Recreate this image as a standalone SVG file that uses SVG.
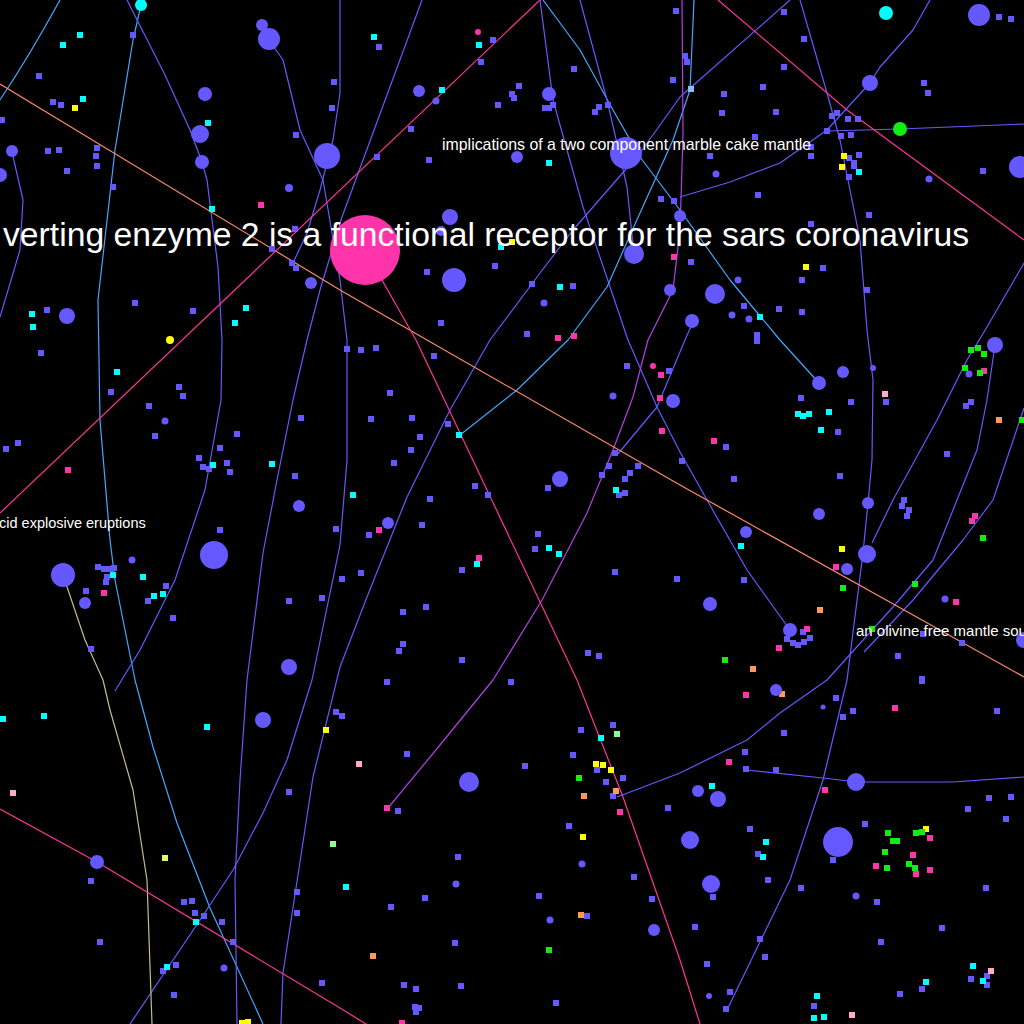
<svg xmlns="http://www.w3.org/2000/svg" xmlns:xlink="http://www.w3.org/1999/xlink" width="1024" height="1024" viewBox="0 0 1024 1024">
<style>
.e{fill:none;stroke-width:1.2;stroke-linejoin:round}
.lb{stroke:#3fa9ff}.bl{stroke:#6658ff}.pu{stroke:#b040e8}.mg{stroke:#ff3399}.or{stroke:#ff8866}.ye{stroke:#c8bb88}
.cb{fill:#6658ff}.cc{fill:#00ffff}.cp{fill:#ff33aa}.cy{fill:#ffff00}.cg{fill:#11ee11}.clp{fill:#ffaacc}.clg{fill:#88ff99}.cyg{fill:#ddff66}.co{fill:#ff9955}.clb{fill:#88bbff}
text{font-family:"Liberation Sans",Arial,sans-serif;fill:#ffffff}
</style>
<defs><rect id="s" x="-3" y="-3" width="6" height="6"/></defs>
<rect width="1024" height="1024" fill="#000"/>
<g id="connectors">
<path class="e lb" d="M60,0 Q30,55 0,100"/>
<path class="e lb" d="M141,5 L133,40 L115,150 L98,300 L100,420 L110,540 L115,580 L135,680 L153,747 L177,823 L210,908 L263,1024"/>
<path class="e bl" d="M127,0 L165,75 L190,130 L202,162 L207,180 L218,267 L222,340 L221,400 L205,490 L175,580 L140,650 L115,691"/>
<path class="e bl" d="M340,0 L340,93 L333,140 L320,190 L307,233 L293,263"/>
<path class="e bl" d="M422,0 L342,217 L320,290 L307,340 L293,400 L277,480 L263,553 L247,680 L240,780 L235,880 L237,1024"/>
<path class="e bl" d="M269,40 L283,60 L300,130 L323,180 L340,280 L347,340 L347,460 L340,545 L312,680 L287,760 L263,813 L233,870 L200,920 L130,1024"/>
<path class="e bl" d="M790,0 L680,97 L640,153 L573,230 L540,273 L490,340 L450,410 L407,497 L367,597 L340,667 L313,777 L283,973 L281,1024"/>
<path class="e lb" d="M543,0 L580,50 L613,110 L640,157 L680,210 L730,280 L780,340 L819,383"/>
<path class="e bl" d="M540,0 L553,100 L583,207 L628,340 L657,407 L680,452 L707,500 L747,570 L790,630"/>
<path class="e lb" d="M694,0 L690,90 L673,140 L640,213 L607,287 L568,340 L517,390 L460,435"/>
<path class="e pu" d="M682,0 L683,135 L680,230 L673,290 L648,340 L633,397 L613,450 L587,513 L542,600 L493,680 L440,745 L388,808"/>
<path class="e bl" d="M930,0 L913,30 L880,67 L870,83 L827,130 L780,163 L730,182 L680,197"/>
<path class="e bl" d="M827,131 L900,129 L1024,124"/>
<path class="e bl" d="M800,0 L827,93 L840,140 L860,240 L867,330 L873,380 L872,460 L868,503 L863,553 L847,680 L823,780 L790,880 L727,1010"/>
<path class="e bl" d="M580,0 L607,100 L627,187 L634,254"/>
<path class="e bl" d="M1024,263 L987,327 L967,360 L937,420 L893,500 L872,543"/>
<path class="e bl" d="M995,345 L987,400 L977,450 L957,500 L933,560 L893,607 L827,680 L780,713 L747,740 L680,773 L617,797"/>
<path class="e bl" d="M1024,408 L1020,420 L993,500 L963,540 L913,600 L864,652"/>
<path class="e bl" d="M747,770 L823,778 L857,782 L953,782 L1024,777"/>
<path class="e bl" d="M693,322 L685,340 L657,407 L617,455"/>
<path class="e ye" d="M63,575 L85,640 L103,680 L110,710 L133,790 L147,880 L152,1024"/>
<path class="e bl" d="M12,152 L23,200 L20,250 L0,317"/>
<path class="e or" d="M0,84 L340,290 L427,340 L680,485 L1024,677"/>
<path class="e mg" d="M0,513 L540,0"/>
<path class="e mg" d="M718,0 L847,110 L1024,240"/>
<path class="e mg" d="M365,250 L416,340 L577,680 L623,797 L680,960 L700,1024"/>
<path class="e mg" d="M0,809 L97,862 L340,1008 L366,1024"/>
</g>
<g id="small-blue" class="cb">
<use href="#s" x="133" y="35"/><use href="#s" x="39" y="76"/><use href="#s" x="53" y="102"/><use href="#s" x="61" y="105"/><use href="#s" x="2" y="120"/><use href="#s" x="48" y="151"/><use href="#s" x="59" y="150"/><use href="#s" x="97" y="148"/><use href="#s" x="96" y="156"/><use href="#s" x="97" y="166"/><use href="#s" x="67" y="171"/><use href="#s" x="113" y="187"/><use href="#s" x="334" y="82"/><use href="#s" x="332" y="108"/><use href="#s" x="296" y="135"/><use href="#s" x="295" y="229"/><use href="#s" x="272" y="249"/><use href="#s" x="292" y="263"/><use href="#s" x="296" y="268"/><use href="#s" x="135" y="303"/><use href="#s" x="47" y="310"/><use href="#s" x="193" y="311"/>
<use href="#s" x="379" y="47"/><use href="#s" x="493" y="40"/><use href="#s" x="481" y="62"/><use href="#s" x="519" y="86"/><use href="#s" x="512" y="94"/><use href="#s" x="514" y="98"/><use href="#s" x="498" y="105"/><use href="#s" x="545" y="108"/><use href="#s" x="549" y="108"/><use href="#s" x="553" y="105"/><use href="#s" x="574" y="69"/><use href="#s" x="599" y="107"/><use href="#s" x="595" y="112"/><use href="#s" x="608" y="105"/><use href="#s" x="673" y="80"/><use href="#s" x="676" y="11"/><use href="#s" x="411" y="129"/><use href="#s" x="377" y="157"/><use href="#s" x="429" y="160"/><use href="#s" x="661" y="199"/><use href="#s" x="674" y="201"/><use href="#s" x="495" y="266"/><use href="#s" x="427" y="272"/><use href="#s" x="532" y="284"/><use href="#s" x="573" y="286"/><use href="#s" x="441" y="323"/><use href="#s" x="527" y="334"/>
<use href="#s" x="784" y="12"/><use href="#s" x="804" y="39"/><use href="#s" x="784" y="67"/><use href="#s" x="763" y="87"/><use href="#s" x="724" y="94"/><use href="#s" x="722" y="113"/><use href="#s" x="776" y="112"/><use href="#s" x="685" y="56"/><use href="#s" x="687" y="62"/><use href="#s" x="924" y="83"/><use href="#s" x="928" y="93"/><use href="#s" x="999" y="17"/><use href="#s" x="1011" y="19"/><use href="#s" x="832" y="116"/><use href="#s" x="837" y="113"/><use href="#s" x="848" y="119"/><use href="#s" x="858" y="119"/><use href="#s" x="827" y="131"/><use href="#s" x="841" y="136"/><use href="#s" x="851" y="135"/><use href="#s" x="755" y="137"/><use href="#s" x="811" y="147"/><use href="#s" x="710" y="156"/><use href="#s" x="811" y="156"/><use href="#s" x="859" y="155"/><use href="#s" x="849" y="158"/><use href="#s" x="854" y="163"/><use href="#s" x="854" y="166"/><use href="#s" x="849" y="177"/><use href="#s" x="758" y="195"/><use href="#s" x="983" y="171"/><use href="#s" x="869" y="215"/><use href="#s" x="811" y="224"/><use href="#s" x="823" y="268"/><use href="#s" x="802" y="280"/><use href="#s" x="867" y="290"/><use href="#s" x="779" y="309"/><use href="#s" x="802" y="312"/><use href="#s" x="744" y="306"/><use href="#s" x="757" y="335"/><use href="#s" x="691" y="262"/>
<use href="#s" x="41" y="353"/><use href="#s" x="111" y="392"/><use href="#s" x="179" y="387"/><use href="#s" x="183" y="396"/><use href="#s" x="149" y="406"/><use href="#s" x="155" y="436"/><use href="#s" x="18" y="443"/><use href="#s" x="6" y="449"/><use href="#s" x="199" y="458"/><use href="#s" x="203" y="467"/><use href="#s" x="209" y="469"/><use href="#s" x="220" y="448"/><use href="#s" x="227" y="463"/><use href="#s" x="230" y="472"/><use href="#s" x="237" y="434"/><use href="#s" x="301" y="418"/><use href="#s" x="295" y="476"/><use href="#s" x="220" y="530"/><use href="#s" x="336" y="529"/><use href="#s" x="98" y="567"/><use href="#s" x="104" y="569"/><use href="#s" x="110" y="569"/><use href="#s" x="114" y="568"/><use href="#s" x="107" y="577"/><use href="#s" x="106" y="582"/><use href="#s" x="86" y="591"/><use href="#s" x="166" y="586"/><use href="#s" x="148" y="601"/><use href="#s" x="173" y="618"/><use href="#s" x="289" y="601"/><use href="#s" x="322" y="598"/><use href="#s" x="91" y="649"/>
<use href="#s" x="347" y="349"/><use href="#s" x="361" y="350"/><use href="#s" x="376" y="348"/><use href="#s" x="434" y="356"/><use href="#s" x="390" y="393"/><use href="#s" x="371" y="419"/><use href="#s" x="412" y="418"/><use href="#s" x="448" y="424"/><use href="#s" x="420" y="437"/><use href="#s" x="411" y="450"/><use href="#s" x="394" y="463"/><use href="#s" x="475" y="486"/><use href="#s" x="488" y="495"/><use href="#s" x="430" y="499"/><use href="#s" x="422" y="525"/><use href="#s" x="369" y="535"/><use href="#s" x="361" y="573"/><use href="#s" x="342" y="579"/><use href="#s" x="462" y="570"/><use href="#s" x="538" y="534"/><use href="#s" x="535" y="549"/><use href="#s" x="548" y="488"/><use href="#s" x="627" y="366"/><use href="#s" x="669" y="371"/><use href="#s" x="615" y="453"/><use href="#s" x="609" y="466"/><use href="#s" x="602" y="475"/><use href="#s" x="638" y="466"/><use href="#s" x="630" y="473"/><use href="#s" x="625" y="479"/><use href="#s" x="619" y="495"/><use href="#s" x="625" y="493"/><use href="#s" x="615" y="572"/><use href="#s" x="677" y="579"/><use href="#s" x="403" y="612"/><use href="#s" x="426" y="607"/><use href="#s" x="403" y="644"/><use href="#s" x="399" y="651"/><use href="#s" x="462" y="660"/><use href="#s" x="588" y="653"/><use href="#s" x="599" y="656"/>
<use href="#s" x="757" y="341"/><use href="#s" x="801" y="398"/><use href="#s" x="851" y="402"/><use href="#s" x="886" y="402"/><use href="#s" x="838" y="432"/><use href="#s" x="726" y="447"/><use href="#s" x="682" y="461"/><use href="#s" x="734" y="479"/><use href="#s" x="840" y="476"/><use href="#s" x="947" y="454"/><use href="#s" x="971" y="402"/><use href="#s" x="966" y="406"/><use href="#s" x="904" y="500"/><use href="#s" x="902" y="506"/><use href="#s" x="909" y="510"/><use href="#s" x="907" y="516"/><use href="#s" x="744" y="580"/><use href="#s" x="962" y="643"/><use href="#s" x="898" y="656"/><use href="#s" x="922" y="679"/><use href="#s" x="923" y="634"/><use href="#s" x="803" y="632"/><use href="#s" x="787" y="639"/><use href="#s" x="793" y="643"/><use href="#s" x="798" y="645"/><use href="#s" x="804" y="642"/><use href="#s" x="810" y="638"/>
<use href="#s" x="289" y="792"/><use href="#s" x="91" y="881"/><use href="#s" x="184" y="902"/><use href="#s" x="192" y="901"/><use href="#s" x="195" y="913"/><use href="#s" x="204" y="916"/><use href="#s" x="222" y="922"/><use href="#s" x="233" y="942"/><use href="#s" x="100" y="942"/><use href="#s" x="176" y="965"/><use href="#s" x="163" y="971"/><use href="#s" x="174" y="995"/><use href="#s" x="297" y="892"/><use href="#s" x="297" y="913"/><use href="#s" x="322" y="983"/><use href="#s" x="336" y="712"/>
<use href="#s" x="387" y="682"/><use href="#s" x="511" y="682"/><use href="#s" x="342" y="716"/><use href="#s" x="407" y="754"/><use href="#s" x="525" y="766"/><use href="#s" x="398" y="811"/><use href="#s" x="581" y="730"/><use href="#s" x="613" y="725"/><use href="#s" x="573" y="755"/><use href="#s" x="597" y="770"/><use href="#s" x="623" y="778"/><use href="#s" x="606" y="782"/><use href="#s" x="613" y="796"/><use href="#s" x="668" y="808"/><use href="#s" x="569" y="826"/><use href="#s" x="458" y="857"/><use href="#s" x="425" y="898"/><use href="#s" x="391" y="907"/><use href="#s" x="539" y="896"/><use href="#s" x="634" y="877"/><use href="#s" x="652" y="899"/><use href="#s" x="587" y="916"/><use href="#s" x="455" y="943"/><use href="#s" x="404" y="985"/><use href="#s" x="416" y="989"/><use href="#s" x="461" y="986"/><use href="#s" x="556" y="1003"/><use href="#s" x="415" y="1007"/><use href="#s" x="419" y="1008"/><use href="#s" x="416" y="1012"/>
<use href="#s" x="836" y="698"/><use href="#s" x="853" y="711"/><use href="#s" x="843" y="717"/><use href="#s" x="997" y="711"/><use href="#s" x="784" y="733"/><use href="#s" x="745" y="752"/><use href="#s" x="746" y="769"/><use href="#s" x="776" y="770"/><use href="#s" x="989" y="798"/><use href="#s" x="1011" y="797"/><use href="#s" x="968" y="809"/><use href="#s" x="1006" y="819"/><use href="#s" x="865" y="824"/><use href="#s" x="750" y="829"/><use href="#s" x="758" y="854"/><use href="#s" x="833" y="860"/><use href="#s" x="768" y="880"/><use href="#s" x="801" y="888"/><use href="#s" x="986" y="888"/><use href="#s" x="877" y="902"/><use href="#s" x="713" y="897"/><use href="#s" x="695" y="927"/><use href="#s" x="942" y="928"/><use href="#s" x="760" y="939"/><use href="#s" x="881" y="942"/><use href="#s" x="765" y="957"/><use href="#s" x="707" y="964"/><use href="#s" x="730" y="992"/><use href="#s" x="726" y="1009"/><use href="#s" x="814" y="1006"/><use href="#s" x="900" y="994"/><use href="#s" x="922" y="989"/><use href="#s" x="971" y="979"/><use href="#s" x="987" y="976"/><use href="#s" x="987" y="985"/><use href="#s" x="922" y="681"/>
</g>
<g id="small-blue-round" class="cb">
<circle cx="289" cy="188" r="4"/><circle cx="544" cy="303" r="3.5"/><circle cx="436" cy="101" r="3.5"/><circle cx="165" cy="421" r="3.5"/><circle cx="132" cy="560" r="3.5"/><circle cx="613" cy="396" r="3.5"/><circle cx="969" cy="374" r="3.5"/><circle cx="945" cy="599" r="3.5"/><circle cx="716" cy="174" r="3.5"/><circle cx="929" cy="179" r="3.5"/><circle cx="732" cy="315" r="3.5"/><circle cx="749" cy="319" r="3.5"/><circle cx="456" cy="884" r="3.5"/><circle cx="582" cy="864" r="3.5"/><circle cx="550" cy="920" r="3.5"/><circle cx="709" cy="996" r="3"/><circle cx="224" cy="968" r="3.5"/><circle cx="823" cy="707" r="2.5"/><circle cx="856" cy="896" r="3.5"/><circle cx="873" cy="368" r="3"/><circle cx="738" cy="280" r="3.5"/><circle cx="441" cy="231" r="5"/>
</g>
<g id="small-cyan" class="cc">
<use href="#s" x="80" y="35"/><use href="#s" x="63" y="45"/><use href="#s" x="83" y="99"/><use href="#s" x="208" y="123"/><use href="#s" x="212" y="209"/><use href="#s" x="246" y="308"/><use href="#s" x="235" y="323"/><use href="#s" x="32" y="314"/><use href="#s" x="33" y="327"/><use href="#s" x="374" y="37"/><use href="#s" x="479" y="45"/><use href="#s" x="442" y="90"/><use href="#s" x="549" y="163"/><use href="#s" x="501" y="247"/><use href="#s" x="560" y="287"/><use href="#s" x="859" y="172"/><use href="#s" x="760" y="317"/><use href="#s" x="117" y="372"/><use href="#s" x="213" y="465"/><use href="#s" x="272" y="464"/><use href="#s" x="113" y="575"/><use href="#s" x="143" y="577"/><use href="#s" x="154" y="596"/><use href="#s" x="163" y="594"/><use href="#s" x="459" y="435"/><use href="#s" x="353" y="495"/><use href="#s" x="616" y="490"/><use href="#s" x="549" y="548"/><use href="#s" x="559" y="554"/><use href="#s" x="477" y="564"/><use href="#s" x="798" y="414"/><use href="#s" x="803" y="416"/><use href="#s" x="809" y="414"/><use href="#s" x="829" y="412"/><use href="#s" x="821" y="430"/><use href="#s" x="741" y="546"/><use href="#s" x="3" y="719"/><use href="#s" x="44" y="716"/><use href="#s" x="207" y="727"/><use href="#s" x="196" y="922"/><use href="#s" x="167" y="967"/><use href="#s" x="601" y="738"/><use href="#s" x="346" y="887"/><use href="#s" x="712" y="786"/><use href="#s" x="766" y="842"/><use href="#s" x="763" y="857"/><use href="#s" x="973" y="966"/><use href="#s" x="983" y="981"/><use href="#s" x="926" y="982"/><use href="#s" x="817" y="996"/><use href="#s" x="814" y="1018"/><use href="#s" x="824" y="1017"/>
</g>
<g id="small-lightblue" class="clb"><use href="#s" x="691" y="89"/></g>
<g id="small-pink" class="cp">
<use href="#s" x="261" y="205"/><circle cx="478" cy="32" r="3"/><use href="#s" x="674" y="257"/><use href="#s" x="558" y="338"/><use href="#s" x="574" y="336"/><use href="#s" x="68" y="470"/><use href="#s" x="104" y="593"/><circle cx="653" cy="366" r="3"/><use href="#s" x="661" y="375"/><use href="#s" x="660" y="398"/><use href="#s" x="662" y="431"/><use href="#s" x="379" y="530"/><use href="#s" x="479" y="558"/><use href="#s" x="714" y="441"/><use href="#s" x="984" y="371"/><use href="#s" x="975" y="516"/><use href="#s" x="972" y="521"/><use href="#s" x="836" y="567"/><use href="#s" x="956" y="602"/><use href="#s" x="807" y="629"/><use href="#s" x="779" y="648"/><use href="#s" x="387" y="808"/><use href="#s" x="620" y="812"/><use href="#s" x="402" y="1023"/><use href="#s" x="746" y="695"/><use href="#s" x="895" y="708"/><use href="#s" x="729" y="762"/><use href="#s" x="825" y="790"/><use href="#s" x="930" y="838"/><use href="#s" x="913" y="855"/><use href="#s" x="876" y="866"/><use href="#s" x="916" y="874"/><use href="#s" x="930" y="870"/>
</g>
<g id="small-lightpink" class="clp">
<use href="#s" x="885" y="394"/><use href="#s" x="13" y="793"/><use href="#s" x="359" y="764"/><use href="#s" x="991" y="971"/><use href="#s" x="852" y="1015"/>
</g>
<g id="small-yellow" class="cy">
<use href="#s" x="75" y="108"/><circle cx="170" cy="340" r="4"/><use href="#s" x="512" y="242"/><use href="#s" x="844" y="156"/><use href="#s" x="842" y="167"/><use href="#s" x="806" y="267"/><use href="#s" x="842" y="549"/><use href="#s" x="326" y="730"/><use href="#s" x="248" y="1022"/><use href="#s" x="242" y="1023"/><use href="#s" x="596" y="764"/><use href="#s" x="603" y="765"/><use href="#s" x="611" y="770"/><use href="#s" x="583" y="837"/><use href="#s" x="926" y="829"/>
</g>
<g id="small-green" class="cg">
<use href="#s" x="971" y="350"/><use href="#s" x="978" y="348"/><use href="#s" x="984" y="354"/><use href="#s" x="965" y="368"/><use href="#s" x="980" y="373"/><use href="#s" x="1022" y="420"/><use href="#s" x="983" y="538"/><use href="#s" x="843" y="588"/><use href="#s" x="915" y="584"/><use href="#s" x="872" y="629"/><use href="#s" x="725" y="660"/><use href="#s" x="579" y="778"/><use href="#s" x="549" y="950"/><use href="#s" x="888" y="833"/><use href="#s" x="893" y="841"/><use href="#s" x="897" y="841"/><use href="#s" x="885" y="852"/><use href="#s" x="887" y="868"/><use href="#s" x="909" y="864"/><use href="#s" x="915" y="868"/><use href="#s" x="916" y="833"/><use href="#s" x="922" y="832"/>
</g>
<g id="small-lightgreen" class="clg"><use href="#s" x="333" y="844"/><use href="#s" x="617" y="734"/></g>
<g id="small-yellowgreen" class="cyg"><use href="#s" x="165" y="858"/></g>
<g id="small-orange" class="co">
<use href="#s" x="999" y="420"/><use href="#s" x="820" y="610"/><use href="#s" x="753" y="669"/><use href="#s" x="584" y="796"/><use href="#s" x="616" y="791"/><use href="#s" x="581" y="915"/><use href="#s" x="373" y="956"/><use href="#s" x="782" y="694"/>
</g>
<g id="large-nodes" class="cb">
<circle id="n1" cx="262" cy="25" r="6"/><circle id="n2" cx="269" cy="39" r="11"/><circle id="n3" cx="205" cy="94" r="7"/><circle id="n4" cx="200" cy="134" r="9"/><circle id="n5" cx="202" cy="162" r="7"/><circle id="n6" cx="12" cy="151" r="6"/><circle id="n7" cx="0" cy="175" r="7"/><circle id="n8" cx="327" cy="156" r="13"/><circle id="n9" cx="311" cy="283" r="6"/><circle id="n10" cx="67" cy="316" r="8"/><circle id="n11" cx="419" cy="91" r="6"/><circle id="n12" cx="549" cy="94" r="7"/><circle id="n13" cx="517" cy="157" r="6"/><circle id="n14" cx="626" cy="153" r="16"/><circle id="n15" cx="450" cy="217" r="8"/><circle id="n16" cx="634" cy="254" r="10"/><circle id="n17" cx="454" cy="280" r="12"/><circle id="n18" cx="680" cy="216" r="6"/><circle id="n19" cx="670" cy="290" r="6"/><circle id="n20" cx="979" cy="15" r="11"/><circle id="n21" cx="870" cy="83" r="8"/><circle id="n22" cx="1020" cy="167" r="11"/><circle id="n23" cx="715" cy="294" r="10"/><circle id="n24" cx="692" cy="321" r="7"/><circle id="n25" cx="299" cy="506" r="6"/><circle id="n26" cx="214" cy="555" r="14"/><circle id="n27" cx="63" cy="575" r="12"/><circle id="n28" cx="85" cy="603" r="6"/><circle id="n29" cx="289" cy="667" r="8"/><circle id="n30" cx="560" cy="479" r="8"/><circle id="n31" cx="673" cy="401" r="7"/><circle id="n32" cx="388" cy="523" r="6"/><circle id="n33" cx="843" cy="372" r="6"/><circle id="n34" cx="819" cy="383" r="7"/><circle id="n35" cx="868" cy="503" r="6"/><circle id="n36" cx="819" cy="514" r="6"/><circle id="n37" cx="746" cy="532" r="6"/><circle id="n38" cx="867" cy="554" r="9"/><circle id="n39" cx="847" cy="569" r="6"/><circle id="n40" cx="710" cy="604" r="7"/><circle id="n41" cx="790" cy="630" r="7"/><circle id="n42" cx="995" cy="345" r="8"/><circle id="n43" cx="1024" cy="640" r="8"/><circle id="n44" cx="263" cy="720" r="8"/><circle id="n45" cx="97" cy="862" r="7"/><circle id="n46" cx="469" cy="782" r="10"/><circle id="n47" cx="654" cy="930" r="6"/><circle id="n48" cx="776" cy="690" r="6"/><circle id="n49" cx="856" cy="782" r="9"/><circle id="n50" cx="698" cy="791" r="6"/><circle id="n51" cx="718" cy="799" r="8"/><circle id="n52" cx="690" cy="840" r="9"/><circle id="n53" cx="838" cy="842" r="15"/><circle id="n54" cx="711" cy="884" r="9"/>
</g>
<g id="node-cyan1"><circle class="cc" cx="141" cy="5" r="6"/></g>
<g id="node-cyan2"><circle class="cc" cx="886" cy="13" r="7"/></g>
<g id="node-green"><circle class="cg" cx="900" cy="129" r="7"/></g>
<g id="node-ace2"><circle class="cp" cx="365" cy="250" r="35"/></g>
<g id="labels">
<text x="3" y="246" font-size="33.7">verting enzyme 2 is a functional receptor for the sars coronavirus</text>
<text x="442" y="150" font-size="15.9">implications of a two component marble cake mantle</text>
<text x="-1" y="528" font-size="14.5">cid explosive eruptions</text>
<text x="856" y="636" font-size="15">an olivine free mantle source</text>
</g>
</svg>
